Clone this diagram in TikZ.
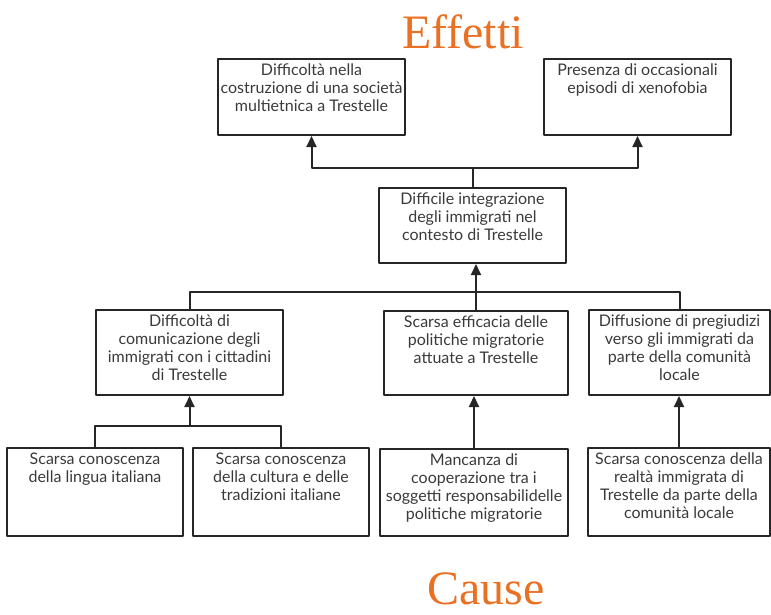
\documentclass[tikz,border=0pt]{standalone}
\usepackage{fontspec}
\setmainfont{Lato}
\newfontfamily\titlefont{Liberation Serif}
\usetikzlibrary{arrows.meta}
\definecolor{effect}{RGB}{234,112,36}
\definecolor{ink}{RGB}{38,38,38}
\definecolor{words}{RGB}{58,58,58}
\newcommand{\boxtext}[3]{\parbox[t][#2pt][t]{#1pt}{\centering #3}}

\begin{document}
\begin{tikzpicture}[x=1pt, y=-1pt, line join=round,
  cell/.style={draw=ink, line width=2pt, anchor=north west, inner xsep=0pt, inner ysep=5pt,
    text=words, font=\fontsize{16}{18}\selectfont},
  link/.style={draw=ink, line width=2pt},
  arrow/.style={link, -{Triangle[length=11pt,width=10pt]}},
  title/.style={text=effect, anchor=base, inner sep=1pt, font=\titlefont\fontsize{48}{48}\selectfont}]
\useasboundingbox (0,0) rectangle (771,614);

\node[title] (effetti) at (463,48) {Effetti};
\node[title] (cause) at (486,604) {Cause};

% effetti
\node[cell] (L1) at (217,58) {\boxtext{187}{66}{Difficoltà nella\\costruzione di una società\\multietnica a Trestelle}};
\node[cell] (R1) at (543,58) {\boxtext{187}{66}{Presenza di occasionali\\episodi di xenofobia}};

% problema centrale
\node[cell] (C) at (378,187) {\boxtext{187}{65}{Difficile integrazione\\degli immigrati nel\\contesto di Trestelle}};

% cause
\node[cell] (M1) at (95,309) {\boxtext{187}{75}{Difficoltà di\\comunicazione degli\\immigrati con i cittadini\\di Trestelle}};
\node[cell] (M2) at (383,310) {\boxtext{184}{74}{Scarsa efficacia delle\\politiche migratorie\\attuate a Trestelle}};
\node[cell] (M3) at (588,309) {\boxtext{181}{75}{Diffusione di pregiudizi\\verso gli immigrati da\\parte della comunità\\locale}};

\node[cell] (B1) at (6,447) {\boxtext{176}{78}{Scarsa conoscenza\\della lingua italiana}};
\node[cell] (B2) at (192,447) {\boxtext{176}{78}{Scarsa conoscenza\\della cultura e delle\\tradizioni italiane}};
\node[cell] (B3) at (379,448) {\boxtext{188}{77}{Mancanza di\\cooperazione tra i\\soggetti responsabilidelle\\politiche migratorie}};
\node[cell] (B4) at (587,447) {\boxtext{182}{78}{Scarsa conoscenza della\\realtà immigrata di\\Trestelle da parte della\\comunità locale}};

% collegamenti
\path (C.north) ++(0,-19) coordinate (jt);
\path (M2.north) ++(0,-18) coordinate (jm);
\path (M1.south) ++(0,30) coordinate (jl);

\draw[arrow] (C.north) -- (jt) -| (L1.south);
\draw[arrow] (jt) -| (R1.south);
\draw[link] (M1.north) |- (jm) -| (M3.north);
\draw[arrow] (M2.north) -- (M2.north |- C.south);
\draw[link] (B1.north) |- (jl) -| (B2.north);
\draw[arrow] (jl) -- (M1.south);
\draw[arrow] (B3.north) -- (B3.north |- M2.south);
\draw[arrow] (B4.north) -- (B4.north |- M3.south);
\end{tikzpicture}
\end{document}
